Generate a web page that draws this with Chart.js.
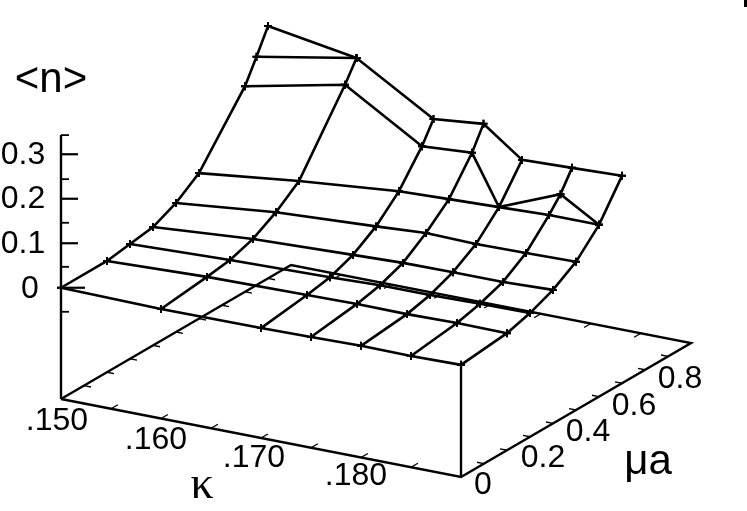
<!DOCTYPE html>
<html>
<head>
<meta charset="utf-8">
<title>n vs kappa and mu a</title>
<script src="https://cdn.jsdelivr.net/npm/chart.js@4"></script>
<style>
  html, body { margin: 0; padding: 0; background: #fff; }
  canvas { display: block; }
</style>
</head>
<body>
<canvas id="chart" width="747" height="511"></canvas>
<script>
// Grid nodes, one pair of lists per kappa line. Same index = same mesh row.
const kappaLines = [0.150, 0.160, 0.170, 0.175, 0.180, 0.185, 0.190];

const mua150 = [0, 0.2, 0.3, 0.4, 0.5, 0.6, 0.8, 0.85, 0.9];
const mua160 = [0, 0.2, 0.3, 0.4, 0.5, 0.6, 0.8, 0.85, 0.85];
const mua170 = [0, 0.2, 0.3, 0.4, 0.5, 0.6, 0.7, 0.75];
const mua175 = [0, 0.2, 0.3, 0.4, 0.5, 0.6, 0.7, 0.75];
const mua180 = [0, 0.2, 0.3, 0.4, 0.5, 0.6, 0.6, 0.7];
const mua185 = [0, 0.2, 0.3, 0.4, 0.5, 0.6, 0.65, 0.7];
const mua190 = [0, 0.2, 0.3, 0.4, 0.5, 0.6, 0.6, 0.7];

const n150 = [0, 0, 0.008, 0.016, 0.040, 0.077, 0.212, 0.263, 0.317];
const n160 = [-0.004, 0.008, 0.016, 0.033, 0.063, 0.103, 0.259, 0.304, 0.304];
const n170 = [-0.003, 0.011, 0.021, 0.041, 0.075, 0.124, 0.195, 0.241];
const n175 = [-0.001, 0.013, 0.025, 0.045, 0.082, 0.128, 0.202, 0.252];
const n180 = [0.001, 0.012, 0.025, 0.046, 0.079, 0.132, 0.132, 0.208];
const n185 = [0, 0.014, 0.027, 0.046, 0.081, 0.136, 0.168, 0.212];
const n190 = [0.002, 0.013, 0.028, 0.050, 0.083, 0.136, 0.136, 0.216];

const muaLists = [mua150, mua160, mua170, mua175, mua180, mua185, mua190];
const nLists = [n150, n160, n170, n175, n180, n185, n190];

// Axis ticks
const kappaTicks = [0.155, 0.160, 0.165, 0.170, 0.175, 0.180, 0.185];
const muaTicks = [0.1, 0.2, 0.3, 0.4, 0.5, 0.6, 0.7, 0.8, 0.9];
const nMajorTicks = [0, 0.1, 0.2, 0.3];
const nMinorTicks = [-0.054, 0.047, 0.146, 0.244, 0.343];

const kappaLabels = ['.150', '.160', '.170', '.180'];
const muaLabels = ['0', '0.2', '0.4', '0.6', '0.8'];
const nLabels = ['0', '0.1', '0.2', '0.3'];

// Box limits
const kappaMin = 0.150, kappaMax = 0.190;
const muaMin = 0, muaMax = 1;
const nFloor = -0.25;

// Parallel projection of (kappa, mua, n) onto the page
function project(kappa, mua, n) {
    const u = (kappa - kappaMin) / (kappaMax - kappaMin);
    return {
        x: 61 + 400 * u + 230 * mua,
        y: 287.75 + 78 * u - 134 * mua - 445 * n
    };
}

function lineSet(points, width = 2.4) {
    return {
        data: points,
        showLine: true,
        fill: false,
        borderColor: '#000',
        borderWidth: width,
        pointRadius: 0,
        tension: 0
    };
}

function meshSet(points) {
    const set = lineSet(points, 2.6);
    set.pointStyle = 'cross';
    set.pointRadius = 4;
    set.pointBorderColor = '#000';
    set.pointBorderWidth = 2;
    return set;
}

const datasets = [];

// Floor box and the two vertical edges
datasets.push(lineSet([
    project(kappaMin, muaMin, nFloor),
    project(kappaMax, muaMin, nFloor),
    project(kappaMax, muaMax, nFloor),
    project(kappaMin, muaMax, nFloor),
    project(kappaMin, muaMin, nFloor)
]));
datasets.push(lineSet([project(kappaMin, muaMin, nFloor), project(kappaMin, muaMin, 0.343)]));
datasets.push(lineSet([project(kappaMax, muaMin, nFloor), project(kappaMax, muaMin, 0)]));

// Floor ticks
kappaTicks.forEach(k => {
    datasets.push(lineSet([project(k, muaMin, nFloor), project(k, 0.03, nFloor)], 1.4));
    datasets.push(lineSet([project(k, muaMax, nFloor), project(k, muaMax - 0.03, nFloor)], 1.4));
});
muaTicks.forEach(m => {
    datasets.push(lineSet([project(kappaMin, m, nFloor), project(kappaMin + 0.0007, m, nFloor)], 1.4));
    datasets.push(lineSet([project(kappaMax, m, nFloor), project(kappaMax - 0.0007, m, nFloor)], 1.4));
});

// n axis ticks
nMajorTicks.forEach(v => {
    const p = project(kappaMin, muaMin, v);
    datasets.push(lineSet([p, { x: p.x + (v === 0 ? 24 : 17), y: p.y }], 2.2));
});
nMinorTicks.forEach(v => {
    const p = project(kappaMin, muaMin, v);
    datasets.push(lineSet([p, { x: p.x + 8, y: p.y }], 1.8));
});

// Surface mesh: lines of constant kappa
kappaLines.forEach((k, i) => {
    datasets.push(meshSet(muaLists[i].map((m, j) => project(k, m, nLists[i][j]))));
});

// Surface mesh: rows across the kappa lines
for (let j = 0; j < mua150.length; j++) {
    const row = [];
    kappaLines.forEach((k, i) => {
        if (j < muaLists[i].length) row.push(project(k, muaLists[i][j], nLists[i][j]));
    });
    datasets.push(meshSet(row));
}

// Small cropped stroke in the top right corner of the page
datasets.push(lineSet([{ x: 745.5, y: 0 }, { x: 745.5, y: 7 }], 3));

// Text is placed next to the axes, in page pixels
const sans = '"Liberation Sans", Arial, sans-serif';
const textItems = [
    { text: kappaLabels[0], x: 57, y: 421 },
    { text: kappaLabels[1], x: 156, y: 440 },
    { text: kappaLabels[2], x: 254, y: 458 },
    { text: kappaLabels[3], x: 356, y: 476 },
    { text: muaLabels[0], x: 483, y: 485 },
    { text: muaLabels[1], x: 543, y: 458 },
    { text: muaLabels[2], x: 588, y: 432 },
    { text: muaLabels[3], x: 634, y: 406 },
    { text: muaLabels[4], x: 680, y: 379 },
    { text: nLabels[0], x: 30, y: 289 },
    { text: nLabels[1], x: 23, y: 244 },
    { text: nLabels[2], x: 23, y: 199 },
    { text: nLabels[3], x: 23, y: 155 },
    { text: '<n>', x: 51, y: 80, font: '42px ' + sans },
    { text: 'κ', x: 202, y: 486, font: '46px "Liberation Serif", serif' },
    { text: 'μa', x: 648, y: 462, font: '42px ' + sans }
];

const textPlugin = {
    id: 'pageText',
    afterDraw(chart) {
        const ctx = chart.ctx;
        ctx.save();
        ctx.fillStyle = '#000';
        ctx.textAlign = 'center';
        ctx.textBaseline = 'middle';
        textItems.forEach(t => {
            ctx.font = t.font || ('32px ' + sans);
            ctx.fillText(t.text, t.x, t.y);
        });
        ctx.restore();
    }
};

new Chart(document.getElementById('chart'), {
    type: 'scatter',
    data: { datasets },
    plugins: [textPlugin],
    options: {
        responsive: false,
        animation: false,
        layout: { padding: 0, autoPadding: false },
        plugins: { legend: { display: false }, tooltip: { enabled: false } },
        scales: {
            x: { type: 'linear', display: false, min: 0, max: 747 },
            y: { type: 'linear', display: false, min: 0, max: 511, reverse: true }
        }
    }
});
</script>
</body>
</html>
